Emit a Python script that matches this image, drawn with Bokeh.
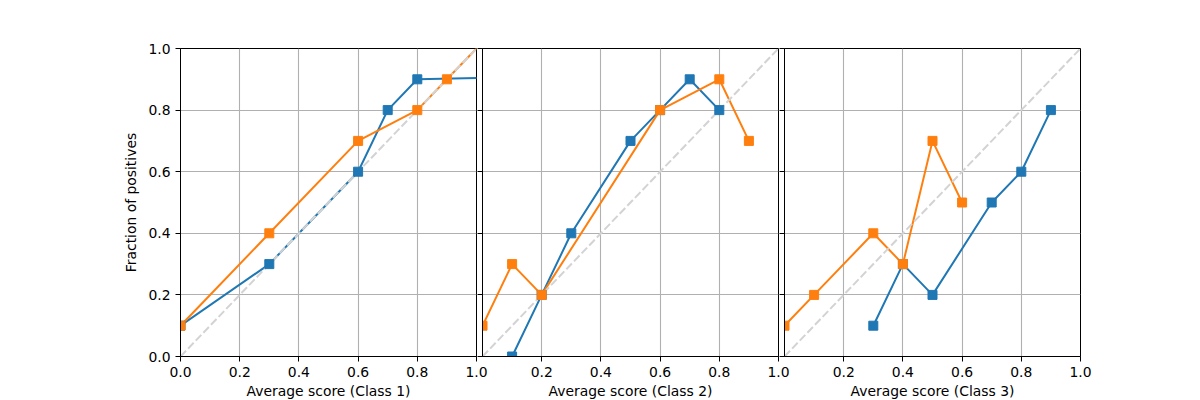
from bokeh.plotting import figure
from bokeh.layouts import row
from bokeh.models import Range1d, FixedTicker, NumeralTickFormatter
from bokeh.embed import file_html
from bokeh.resources import INLINE

# ---- data ----
class_labels = ["Average score (Class 1)", "Average score (Class 2)", "Average score (Class 3)"]
y_label = "Fraction of positives"

c1_blue_x = [0.0, 0.3, 0.6, 0.7, 0.8, 1.05]
c1_blue_y = [0.1, 0.3, 0.6, 0.8, 0.9, 0.905]
c1_orange_x = [0.0, 0.3, 0.6, 0.8, 0.9, 1.05]
c1_orange_y = [0.1, 0.4, 0.7, 0.8, 0.9, 1.05]

c2_blue_x = [0.1, 0.2, 0.3, 0.5, 0.6, 0.7, 0.8]
c2_blue_y = [0.0, 0.2, 0.4, 0.7, 0.8, 0.9, 0.8]
c2_orange_x = [0.0, 0.1, 0.2, 0.6, 0.8, 0.9]
c2_orange_y = [0.1, 0.3, 0.2, 0.8, 0.9, 0.7]

c3_blue_x = [0.3, 0.4, 0.5, 0.7, 0.8, 0.9]
c3_blue_y = [0.1, 0.3, 0.2, 0.5, 0.6, 0.8]
c3_orange_x = [0.0, 0.1, 0.3, 0.4, 0.5, 0.6]
c3_orange_y = [0.1, 0.2, 0.4, 0.3, 0.7, 0.5]

diag = [0.0, 1.0]
ticks_full = [0.0, 0.2, 0.4, 0.6, 0.8, 1.0]
ticks_pruned = [0.2, 0.4, 0.6, 0.8, 1.0]

BLUE = "#1f77b4"
ORANGE = "#ff7f0e"
FONT = "DejaVu Sans"
FS = "13.9px"


def make_panel(bx, by, ox, oy, xlabel, first, left, right, mleft):
    p = figure(frame_width=296, frame_height=308,
               x_range=Range1d(0, 1), y_range=Range1d(0, 1),
               output_backend="svg", toolbar_location=None,
               min_border_left=left, min_border_right=right,
               min_border_top=48, min_border_bottom=44)
    if mleft:
        p.margin = (0, 0, 0, mleft)
    p.background_fill_color = "white"
    p.border_fill_alpha = 0
    p.outline_line_color = "black"
    p.outline_line_width = 1

    xt = ticks_full if first else ticks_pruned
    p.xaxis.ticker = FixedTicker(ticks=xt)
    p.yaxis.ticker = FixedTicker(ticks=ticks_full)
    p.xgrid.ticker = FixedTicker(ticks=ticks_full)
    p.ygrid.ticker = FixedTicker(ticks=ticks_full)
    for g in (p.xgrid, p.ygrid):
        g.grid_line_color = "#b0b0b0"
        g.grid_line_width = 1.1

    for ax in (p.xaxis, p.yaxis):
        ax.formatter = NumeralTickFormatter(format="0.0")
        ax.major_tick_out = 5
        ax.major_tick_in = 0
        ax.minor_tick_line_color = None
        ax.major_tick_line_color = "black"
        ax.major_tick_line_width = 1
        ax.axis_line_color = "black"
        ax.axis_line_width = 1
        ax.major_label_text_font = FONT
        ax.major_label_text_font_size = FS
        ax.major_label_text_color = "black"
        ax.axis_label_text_font = FONT
        ax.axis_label_text_font_size = FS
        ax.axis_label_text_font_style = "normal"
        ax.axis_label_text_color = "black"

    p.xaxis.axis_label = xlabel
    p.xaxis.major_label_standoff = 5
    p.xaxis.axis_label_standoff = 3
    if first:
        p.yaxis.axis_label = y_label
        p.yaxis.major_label_standoff = 5
        p.yaxis.axis_label_standoff = 6
    else:
        p.yaxis.major_label_overrides = {t: "" for t in ticks_full}
        p.yaxis.major_label_standoff = 0

    p.line(bx, by, line_color=BLUE, line_width=2)
    p.line(ox, oy, line_color=ORANGE, line_width=2)
    p.line(diag, diag, line_color="#d3d3d3", line_width=2, line_dash="8 3")
    p.scatter(bx, by, marker="square", size=9, fill_color=BLUE, line_color=BLUE)
    p.scatter(ox, oy, marker="square", size=9, fill_color=ORANGE, line_color=ORANGE)
    return p


p1 = make_panel(c1_blue_x, c1_blue_y, c1_orange_x, c1_orange_y, class_labels[0], True, 180, 16, 0)
p2 = make_panel(c2_blue_x, c2_blue_y, c2_orange_x, c2_orange_y, class_labels[1], False, 4, 16, -15)
p3 = make_panel(c3_blue_x, c3_blue_y, c3_orange_x, c3_orange_y, class_labels[2], False, 4, 120, -15)

layout = row(p1, p2, p3)
open("out.html", "w").write(file_html(layout, INLINE))
